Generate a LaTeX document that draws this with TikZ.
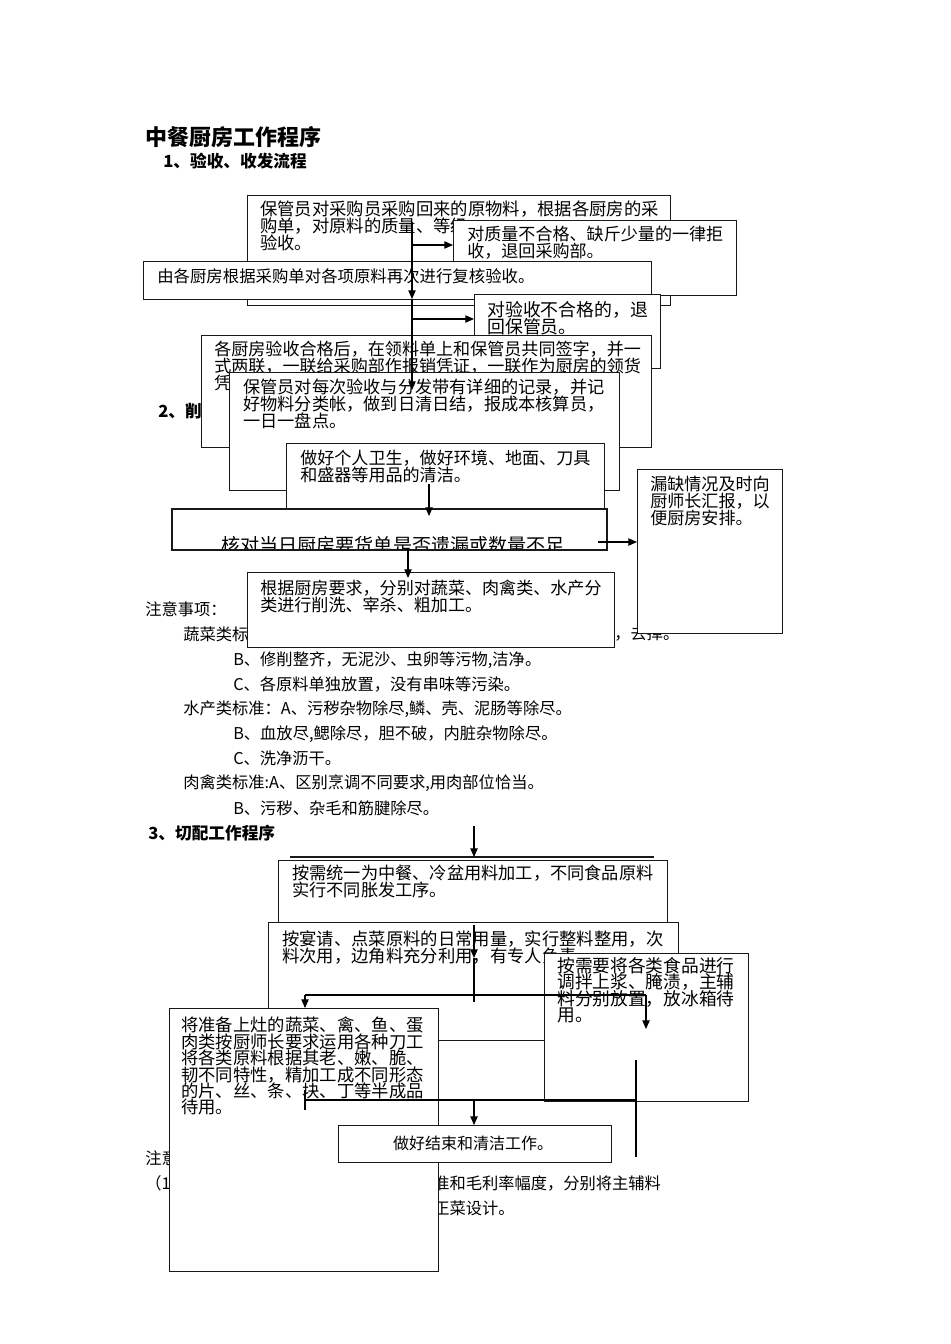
\documentclass[tikz,border=0pt]{standalone}
\usepackage{fontspec}
\setmainfont{Noto Sans CJK SC}
\usetikzlibrary{arrows.meta,calc}
\tikzset{
  x=0.75pt, y=-0.75pt,
  bxs/.style={draw=black!90, line width=1pt, fill=white, inner sep=0pt, anchor=north west},
  tx/.style 2 args={anchor=north west, inner sep=0pt, align=left,
     font={\fontsize{#1pt}{#2pt}\selectfont\lineskiplimit=-20pt\lineskip=0pt}},
  body/.style={anchor=west, inner sep=0pt, font=\fontsize{12.2pt}{14pt}\selectfont},
  hd/.style={anchor=west, inner sep=0pt, font=\bfseries\fontsize{12.5pt}{14pt}\selectfont},
  ar/.style={line width=0.8pt, -{Triangle[length=6.5pt,width=5.5pt]}},
  ln/.style={line width=0.8pt},
}
\newcommand\mybox[5]{\node[bxs, minimum width=#4*0.75pt, minimum height=#5*0.75pt] (#1) at (#2,#3) {};}
\begin{document}
\begin{tikzpicture}
\useasboundingbox (0,0) rectangle (950,1344);
\fill[white] (0,0) rectangle (950,1344);

% headings
\node[hd, font=\bfseries\fontsize{16.5pt}{18pt}\selectfont] (title) at (145,137) {中餐厨房工作程序};
\node[hd] (h1) at (163,161) {1、验收、收发流程};
\node[hd] (h2) at (158,411) {2、削};

% section 1 boxes
\mybox{A}{247}{195}{423}{110}
\node[tx={13}{12.75}] (At) at ($(A.north west)+(13,6)$) {保管员对采购员采购回来的原物料，根据各厨房的采\\购单，对原料的质量、等级\\验收。};
\mybox{B}{453}{220}{283}{75}
\node[tx={12.8}{12.75}] (Bt) at ($(B.north west)+(14,6)$) {对质量不合格、缺斤少量的一律拒\\收，退回采购部。};
\mybox{C}{143}{261}{508}{38}
\node[tx={12.3}{12.75}] (Ct) at ($(C.north west)+(14,7)$) {由各厨房根据采购单对各项原料再次进行复核验收。};
\mybox{D}{474}{294}{186}{74}
\node[tx={13.4}{12.75}] (Dt) at ($(D.north west)+(13,7)$) {对验收不合格的，退\\回保管员。};
\mybox{E}{201}{335}{450}{112}
\node[tx={12.8}{12.75}] (Et) at ($(E.north west)+(13,6)$) {各厨房验收合格后，在领料单上和保管员共同签字，并一\\式两联，一联给采购部作报销凭证，一联作为厨房的领货\\凭};
\mybox{F}{229}{372}{390}{118}
\node[tx={12.9}{12.75}] (Ft) at ($(F.north west)+(14,7)$) {保管员对每次验收与分发带有详细的记录，并记\\好物料分类帐，做到日清日结，报成本核算员，\\一日一盘点。};
\mybox{G}{286}{443}{318}{90}
\node[tx={12.8}{12.75}] (Gt) at ($(G.north west)+(14,7)$) {做好个人卫生，做好环境、地面、刀具\\和盛器等用品的清洁。};
\mybox{H}{172}{509}{434}{40}
\begin{scope}
\clip (172,509) rectangle (606,548);
\node[inner sep=0pt, font=\fontsize{14.3pt}{16pt}\selectfont] (Ht) at (393,545) {核对当日厨房要货单是否遗漏或数量不足};
\end{scope}
\draw[line width=1pt, draw=black!90] (H.north west) rectangle (H.south east);

% body text section 2
\node[body] (n1) at (145,609) {注意事项：};
\node[body] (n2) at (183,634) {蔬菜类标准};
\node[body] (n2b) at (614,634) {，去掉。};
\node[body] (n3) at (233,660) {B、修削整齐，无泥沙、虫卵等污物,洁净。};
\node[body] (n4) at (233,684) {C、各原料单独放置，没有串味等污染。};
\node[body] (n5) at (183,709) {水产类标准：A、污秽杂物除尽,鳞、壳、泥肠等除尽。};
\node[body] (n6) at (233,734) {B、血放尽,鳃除尽，胆不破，内脏杂物除尽。};
\node[body] (n7) at (233,758) {C、洗净沥干。};
\node[body] (n8) at (183,783) {肉禽类标准:A、区别烹调不同要求,用肉部位恰当。};
\node[body] (n9) at (233,808) {B、污秽、杂毛和筋腱除尽。};

\mybox{I}{637}{469}{145}{164}
\node[tx={12.8}{12.75}] (It) at ($(I.north west)+(13,7)$) {漏缺情况及时向\\厨师长汇报，以\\便厨房安排。};
\mybox{J}{247}{572}{367}{75}
\node[tx={12.8}{12.75}] (Jt) at ($(J.north west)+(13,8)$) {根据厨房要求，分别对蔬菜、肉禽类、水产分\\类进行削洗、宰杀、粗加工。};

% connectors section 1-2
\coordinate (a1) at (412,222); \coordinate (a2) at (412,299);
\coordinate (a3) at (412,245); \coordinate (a4) at (412,390);
\coordinate (a5) at (412,319);
\draw[ar] (a1) -- (a2);
\draw[ar] (a3) -- (a3 -| B.west);
\draw[ar] (a2) -- (a4);
\draw[ar] (a5) -- (a5 -| D.west);
\coordinate (g1) at (429,484); \coordinate (g2) at (429,516);
\draw[ar] (g1) -- (g2);
\coordinate (hh1) at (598,542);
\draw[ar] (hh1) -- (hh1 -| I.west);
\coordinate (hh2) at (408,548); \coordinate (hh3) at (408,578);
\draw[ar] (hh2) -- (hh3);

% section 3
\node[hd] (h3t) at (148,833) {3、切配工作程序};
\node[body] (m1) at (145,1158) {注意事项：};
\node[body] (m2) at (145,1183) {（1）};
\node[body] (m3) at (433,1183) {准和毛利率幅度，分别将主辅料};
\node[body] (m4) at (433,1208) {正菜设计。};

\coordinate (k0) at (290,857); \coordinate (k1) at (654,857);
\draw[line width=1pt, draw=black!90] (k0) -- (k1);
\mybox{K}{278}{860}{389}{62}
\node[tx={12.9}{12.75}] (Kt) at ($(K.north west)+(14,5)$) {按需统一为中餐、冷盆用料加工，不同食品原料\\实行不同胀发工序。};
\mybox{L}{268}{922}{410}{118}
\node[tx={13}{12.75}] (Lt) at ($(L.north west)+(14,8)$) {按宴请、点菜原料的日常用量，实行整料整用，次\\料次用，边角料充分利用，有专人负责};
\mybox{M}{544}{953}{204}{148}
\node[tx={13.3}{12.3}] (Mt) at ($(M.north west)+(13,4)$) {按需要将各类食品进行\\调拌上浆、腌渍，主辅\\料分别放置，放冰箱待\\用。};
\mybox{N}{169}{1008}{269}{263}
\node[tx={13}{12.3}] (Nt) at ($(N.north west)+(12,9)$) {将准备上灶的蔬菜、禽、鱼、蛋\\肉类按厨师长要求运用各种刀工\\将各类原料根据其老、嫩、脆、\\韧不同特性，精加工成不同形态\\的片、丝、条、块、丁等半成品\\待用。};
\mybox{O}{338}{1125}{273}{37}
\node[inner sep=0pt, font=\fontsize{12pt}{14pt}\selectfont] (Ot) at ($(O.center)+(-2,-1)$) {做好结束和清洁工作。};

% connectors section 3
\coordinate (s0) at (474,826);
\draw[ar] (s0) -- (s0 |- k0);
\coordinate (s1) at (474,925); \coordinate (s2) at (474,958); \coordinate (s3) at (474,1002);
\draw[ar] (s1) -- (s2);
\draw[ln] (s2) -- (s3);
\coordinate (t1) at (305,995); \coordinate (t2) at (646,995);
\draw[ln] (t1) -- (t2);
\draw[ar] (t1) -- (t1 |- N.north);
\coordinate (t3) at (646,1029);
\draw[ar] (t2) -- (t3);
\coordinate (u1) at (636,1060); \coordinate (u2) at (636,1157);
\draw[ln] (u1) -- (u2);
\coordinate (v1) at (305,1100); \coordinate (v2) at (636,1100);
\draw[ln] (v1) -- (v2);
\coordinate (v3) at (305,1090); \coordinate (v4) at (305,1110);
\draw[ln] (v3) -- (v4);
\coordinate (w1) at (474,1100);
\draw[ar] (w1) -- (w1 |- O.north);
\end{tikzpicture}
\end{document}
